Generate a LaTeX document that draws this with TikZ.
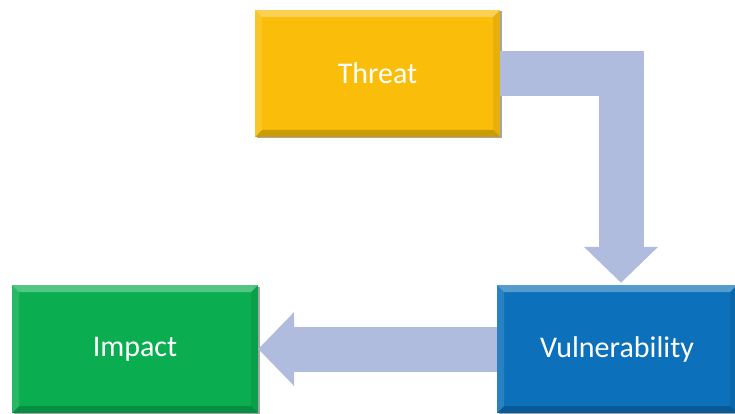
\documentclass[tikz,border=0pt]{standalone}
\usepackage{fontspec}
\setmainfont{Carlito}
\usetikzlibrary{arrows.meta,positioning,shadows}
\definecolor{threatgold}{RGB}{250,190,10}
\definecolor{vulnblue}{RGB}{12,112,186}
\definecolor{impactgreen}{RGB}{10,174,80}
\definecolor{flowblue}{RGB}{175,188,221}
\tikzset{
bevel/.style={path picture={
    \fill[white,opacity=.3] (path picture bounding box.north west) -- (path picture bounding box.north east)
        -- ([shift={(-7pt,-7pt)}]path picture bounding box.north east) -- ([shift={(7pt,-7pt)}]path picture bounding box.north west) -- cycle;
    \fill[black,opacity=.18] (path picture bounding box.south west) -- (path picture bounding box.south east)
        -- ([shift={(-7pt,7pt)}]path picture bounding box.south east) -- ([shift={(7pt,7pt)}]path picture bounding box.south west) -- cycle;
    \fill[white,opacity=.12] (path picture bounding box.north west) -- ([shift={(7pt,-7pt)}]path picture bounding box.north west)
        -- ([shift={(7pt,7pt)}]path picture bounding box.south west) -- (path picture bounding box.south west) -- cycle;
    \fill[black,opacity=.08] (path picture bounding box.north east) -- ([shift={(-7pt,-7pt)}]path picture bounding box.north east)
        -- ([shift={(-7pt,7pt)}]path picture bounding box.south east) -- (path picture bounding box.south east) -- cycle;
}},
box/.style={rectangle, minimum width=245pt, minimum height=127pt, inner sep=0pt,
    fill=#1, text=white, font=\fontsize{30}{36}\selectfont, bevel,
    drop shadow={shadow xshift=1.5pt, shadow yshift=-1.5pt, opacity=.35, fill=black}},
flow/.style={draw=flowblue, line width=45pt, line join=miter,
    -{Triangle[length=36pt,width=72pt]}},
}

\begin{document}
\begin{tikzpicture}[x=1pt,y=-1pt]
    \useasboundingbox (0,0) rectangle (735,414);

    % the three boxes
    \node[box=threatgold] (threat) at (377.5,73.5) {Threat};
    \node[box=vulnblue, minimum width=240pt, minimum height=128pt] (vuln) at (617,349) {Vulnerability};
    \node[box=impactgreen, minimum width=246pt, minimum height=128pt] (impact) at (135,349) {Impact};

    % block arrows
    \draw[flow, shorten >=2pt] (threat.east) -| ([xshift=4pt]vuln.north);
    \draw[flow] (vuln.west) -- (impact.east);
\end{tikzpicture}
\end{document}
